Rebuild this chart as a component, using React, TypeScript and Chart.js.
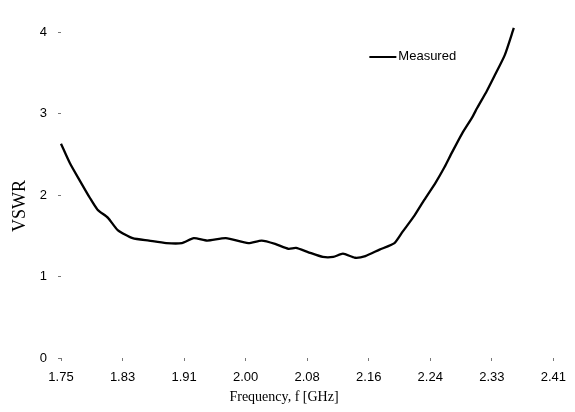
import React, { useEffect, useRef } from "react";
import { Chart, registerables } from "chart.js";

Chart.register(...registerables);

const freqGHz = [
  1.750, 1.762, 1.775, 1.789, 1.799, 1.813, 1.826, 1.846, 1.868, 1.891,
  1.912, 1.928, 1.946, 1.971, 2.001, 2.019, 2.037, 2.055, 2.065, 2.081,
  2.101, 2.115, 2.128, 2.144, 2.158, 2.177, 2.197, 2.208, 2.224, 2.237,
  2.252, 2.264, 2.274, 2.288, 2.301, 2.308, 2.321, 2.331, 2.345, 2.357,
];
const vswrMeasured = [
  2.63, 2.39, 2.18, 1.96, 1.82, 1.72, 1.57, 1.47, 1.44, 1.41,
  1.41, 1.47, 1.44, 1.47, 1.41, 1.44, 1.40, 1.34, 1.35, 1.30,
  1.24, 1.24, 1.28, 1.23, 1.25, 1.33, 1.41, 1.55, 1.75, 1.94,
  2.15, 2.34, 2.52, 2.76, 2.95, 3.07, 3.28, 3.46, 3.72, 4.05,
];
const xTickValues = [1.75, 1.8325, 1.915, 1.9975, 2.08, 2.1625, 2.245, 2.3275, 2.41];
const xTickLabels = ["1.75", "1.83", "1.91", "2.00", "2.08", "2.16", "2.24", "2.33", "2.41"];
const yTickValues = [0, 1, 2, 3, 4];
const seriesLabel = "Measured";
const xTitle = "Frequency, f [GHz]";
const yTitle = "VSWR";

const SANS = '"Liberation Sans", Arial, sans-serif';
const SERIF = '"Liberation Serif", "Times New Roman", serif';

const decorPlugin = {
  id: "decor",
  afterDraw(chart: any) {
    const { ctx, chartArea } = chart;
    ctx.save();
    ctx.fillStyle = "#000";
    ctx.font = `18px ${SERIF}`;
    ctx.textAlign = "center";
    ctx.textBaseline = "middle";
    ctx.translate(20, 206);
    ctx.rotate(-Math.PI / 2);
    ctx.fillText(yTitle, 0, 0);
    ctx.restore();

    ctx.save();
    ctx.fillStyle = "#000";
    ctx.font = `14px ${SERIF}`;
    ctx.textAlign = "center";
    ctx.textBaseline = "middle";
    ctx.fillText(xTitle, 284, 397);

    const lx = chartArea.right - 184;
    const ly = chartArea.top + 25;
    ctx.strokeStyle = "#000";
    ctx.lineWidth = 2;
    ctx.beginPath();
    ctx.moveTo(lx, ly);
    ctx.lineTo(lx + 27, ly);
    ctx.stroke();
    ctx.font = `13px ${SANS}`;
    ctx.textAlign = "left";
    ctx.textBaseline = "middle";
    ctx.fillText(seriesLabel, lx + 29, ly - 1);
    ctx.restore();
  },
};

export default function App() {
  const ref = useRef<HTMLCanvasElement>(null);
  useEffect(() => {
    document.body.style.margin = "0";
    const canvas = ref.current!;
    const chart = new Chart(canvas, {
      type: "line",
      data: {
        datasets: [
          {
            label: seriesLabel,
            data: freqGHz.map((f, i) => ({ x: f, y: vswrMeasured[i] })),
            borderColor: "#000",
            borderWidth: 2.3,
            pointRadius: 0,
            tension: 0.2,
            fill: false,
            clip: false as any,
          },
        ],
      },
      options: {
        animation: false,
        responsive: false,
        devicePixelRatio: 1,
        layout: { padding: { left: 0, right: 18, top: 32, bottom: 0 } },
        plugins: { legend: { display: false }, tooltip: { enabled: false } },
        scales: {
          x: {
            type: "linear",
            min: 1.75,
            max: 2.41,
            border: { display: false },
            grid: { drawOnChartArea: false, drawTicks: true, tickLength: 3, color: "#777" },
            afterBuildTicks: (scale: any) => {
              scale.ticks = xTickValues.map((v) => ({ value: v }));
            },
            afterFit: (scale: any) => {
              scale.height = 54;
            },
            ticks: {
              color: "#000",
              font: { family: SANS, size: 13 },
              padding: 9,
              maxRotation: 0,
              autoSkip: false,
              callback: (_v: any, i: number) => xTickLabels[i],
            },
          },
          y: {
            type: "linear",
            min: 0,
            max: 4,
            border: { display: false },
            grid: { drawOnChartArea: false, drawTicks: true, tickLength: 3, color: "#777" },
            afterBuildTicks: (scale: any) => {
              scale.ticks = yTickValues.map((v) => ({ value: v }));
            },
            afterFit: (scale: any) => {
              scale.width = 61;
            },
            ticks: {
              color: "#000",
              font: { family: SANS, size: 13 },
              padding: 11,
              callback: (v: any) => String(v),
            },
          },
        },
      },
      plugins: [decorPlugin],
    });
    return () => chart.destroy();
  }, []);
  return <canvas ref={ref} width={575} height={412} style={{ display: "block" }} />;
}
